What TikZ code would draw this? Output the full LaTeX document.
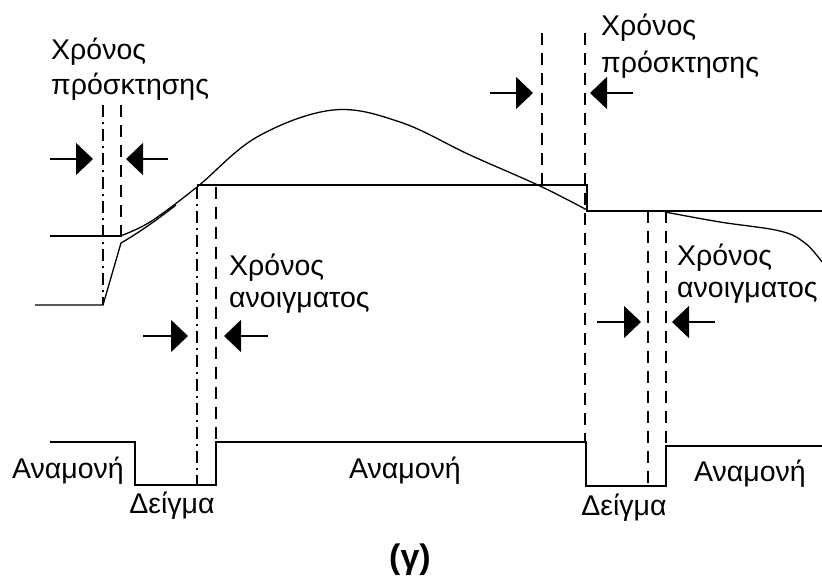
\documentclass[tikz,border=0pt]{standalone}
\usepackage{fontspec}
\setmainfont{Liberation Sans}
\usetikzlibrary{arrows.meta}
\tikzset{
  sig/.style={line width=1.3pt},
  dsh/.style={line width=1.2pt, dash pattern=on 12pt off 8pt},
  dshdot/.style={line width=1.2pt, dash pattern=on 12pt off 5pt on 2pt off 5pt},
  arr/.style={line width=1.3pt, -{Triangle[width=32pt,length=17pt]}},
  lbl/.style={font=\fontsize{28.5}{34}\selectfont, inner sep=0pt},
}
\begin{document}
\begin{tikzpicture}[x=1pt,y=-1pt]
\useasboundingbox (0,0) rectangle (822,579);

% ---- input / held signal ----
\draw[sig] (50,236) -- (120,236);
\draw[sig] plot[smooth, tension=0.6] coordinates {(120,236) (150,222) (197,187) (257,137) (333,110) (400,122) (470,155) (540,186) (587,210)};
\draw[sig] (35,305) -- (103,305) -- (121,243) .. controls (140,232) and (158,219) .. (176,205);
\draw[sig] (197,185) -- (587,185) -- (587,211) -- (822,211);
\draw[sig] plot[smooth, tension=0.6] coordinates {(665,212) (720,222) (780,231) (805,243) (822,262)};

% ---- sample / hold control ----
\draw[sig] (50,442) -- (135,442) -- (135,485) -- (216,485) -- (216,442) -- (586,442) -- (586,486) -- (666,486) -- (666,446) -- (822,446);
\draw[line width=2.2pt] (586,443) -- (586,486);

% ---- dashed markers ----
\draw[dshdot] (103,105) -- (103,305);
\draw[dsh]    (121,105) -- (121,245);
\draw[dshdot] (197,187) -- (197,485);
\draw[dsh]    (216,187) -- (216,442);
\draw[dsh]    (542,33) -- (542,186);
\draw[dsh]    (585,33) -- (585,443);
\draw[dsh]    (648,211) -- (648,486);
\draw[dsh]    (666,211) -- (666,447);

% ---- arrows ----
\coordinate (a1s) at (50,159);  \coordinate (a1e) at (93,159);
\coordinate (a2s) at (168,159); \coordinate (a2e) at (126,159);
\coordinate (a3s) at (490,93);  \coordinate (a3e) at (533,93);
\coordinate (a4s) at (633,93);  \coordinate (a4e) at (590,93);
\coordinate (a5s) at (143,336); \coordinate (a5e) at (188,336);
\coordinate (a6s) at (268,336); \coordinate (a6e) at (224,336);
\coordinate (a7s) at (597,322); \coordinate (a7e) at (641,322);
\coordinate (a8s) at (715,322); \coordinate (a8e) at (672,322);
\draw[arr] (a1s) -- (a1e);
\draw[arr] (a2s) -- (a2e);
\draw[arr] (a3s) -- (a3e);
\draw[arr] (a4s) -- (a4e);
\draw[arr] (a5s) -- (a5e);
\draw[arr] (a6s) -- (a6e);
\draw[arr] (a7s) -- (a7e);
\draw[arr] (a8s) -- (a8e);

% ---- labels ----
\node[lbl, anchor=base west] (acqL1) at (51,59) {Χρόνος};
\node[lbl, anchor=base west] (acqL2) at (51,94) {πρόσκτησης};
\node[lbl, anchor=base west] (acqR1) at (601,35) {Χρόνος};
\node[lbl, anchor=base west] (acqR2) at (601,72) {πρόσκτησης};
\node[lbl, anchor=base west] (apL1) at (229,275) {Χρόνος};
\node[lbl, anchor=base west] (apL2) at (229,307) {ανοιγματος};
\node[lbl, anchor=base west] (apR1) at (677,265) {Χρόνος};
\node[lbl, anchor=base west] (apR2) at (677,297) {ανοιγματος};

\node[lbl, anchor=base] (w1) at (68,478) {Αναμονή};
\node[lbl, anchor=base] (s1) at (172,513) {Δείγμα};
\node[lbl, anchor=base] (w2) at (405,478) {Αναμονή};
\node[lbl, anchor=base] (s2) at (624,515) {Δείγμα};
\node[lbl, anchor=base] (w3) at (750,481) {Αναμονή};

\node[inner sep=0pt, anchor=base, font=\fontsize{34}{40}\selectfont\bfseries] (cap) at (410,568) {(γ)};
\end{tikzpicture}
\end{document}
